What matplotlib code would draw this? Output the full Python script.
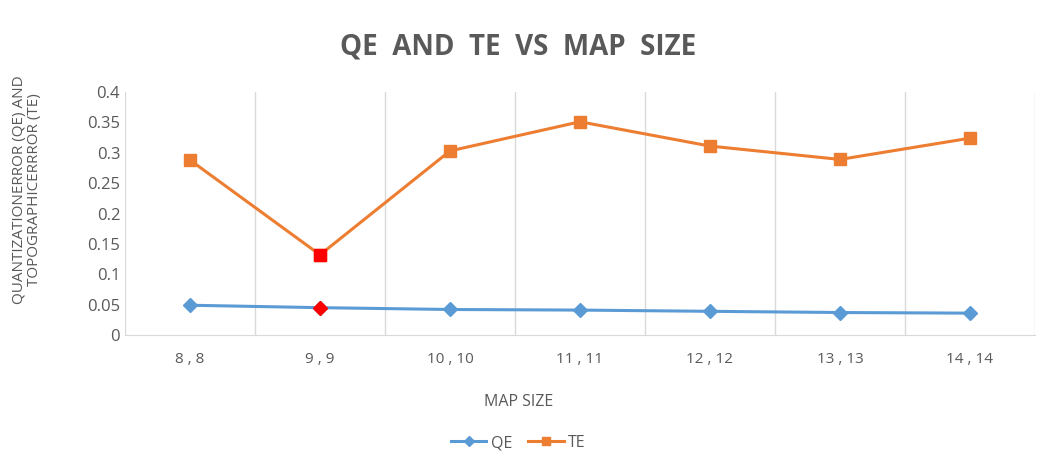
import numpy as np
import matplotlib.pyplot as plt

# data
map_sizes = ["8,8", "9,9", "10,10", "11,11", "12,12", "13,13", "14,14"]
qe = [0.049, 0.045, 0.042, 0.041, 0.039, 0.037, 0.036]
te = [0.288, 0.132, 0.303, 0.351, 0.311, 0.289, 0.324]
highlight_idx = 1  # 9,9 drawn red

plt.rcParams["font.family"] = ["Open Sans", "DejaVu Sans"]
grey = "#595959"
blue = "#5B9BD5"
orange = "#ED7D31"

fig = plt.figure(figsize=(10.37, 4.53), dpi=100)
ax = fig.add_axes([125 / 1037, 1 - 335 / 453, 910 / 1037, 243 / 453])

x = np.arange(len(map_sizes))
ax.plot(x, qe, color=blue, lw=2.2, marker="D", ms=7, mec=blue, mfc=blue, label="QE")
ax.plot(x, te, color=orange, lw=2.2, marker="s", ms=8, mec=orange, mfc=orange, label="TE")
ax.plot(x[highlight_idx], qe[highlight_idx], "D", color="#FF0000", ms=7)
ax.plot(x[highlight_idx], te[highlight_idx], "s", color="#FF0000", ms=8)

ax.set_xlim(-0.5, len(map_sizes) - 0.5)
ax.set_ylim(0, 0.4)
ax.set_yticks(np.arange(0, 0.401, 0.05))
ax.set_yticklabels(["0", "0.05", "0.1", "0.15", "0.2", "0.25", "0.3", "0.35", "0.4"])
ax.set_xticks(x)
ax.set_xticklabels([s.replace(",", " , ") for s in map_sizes])

# category boundary gridlines (Excel style)
for b in np.arange(-0.5, len(map_sizes), 1.0):
    ax.axvline(b, color="#D9D9D9", lw=1, zorder=0)

for s in ["top", "right", "left"]:
    ax.spines[s].set_visible(False)
ax.spines["bottom"].set_color("#D9D9D9")
ax.tick_params(axis="both", length=0, colors=grey, labelsize=12)
ax.tick_params(axis="x", pad=12, labelsize=11)

fig.text(0.5, 1 - 47 / 453, "QE  AND  TE  VS  MAP  SIZE", ha="center", va="center",
         fontsize=20, fontweight="bold", color=grey)
fig.text(0.5, 1 - 402 / 453, "MAP SIZE", ha="center", va="center", fontsize=11.5, color=grey)
fig.text(27 / 1037, 1 - 190 / 453, "QUANTIZATIONERROR (QE) AND\nTOPOGRAPHICERRROR (TE)",
         rotation=90, ha="center", va="center", fontsize=11, color=grey, linespacing=1.0)

fig.legend(loc="center", bbox_to_anchor=(0.5, 1 - 443 / 453), ncol=2, frameon=False,
           fontsize=11.5, labelcolor=grey, handlelength=2.2, columnspacing=1.0,
           handletextpad=0.3, markerscale=0.8)

fig.savefig("out.png", dpi=100)
